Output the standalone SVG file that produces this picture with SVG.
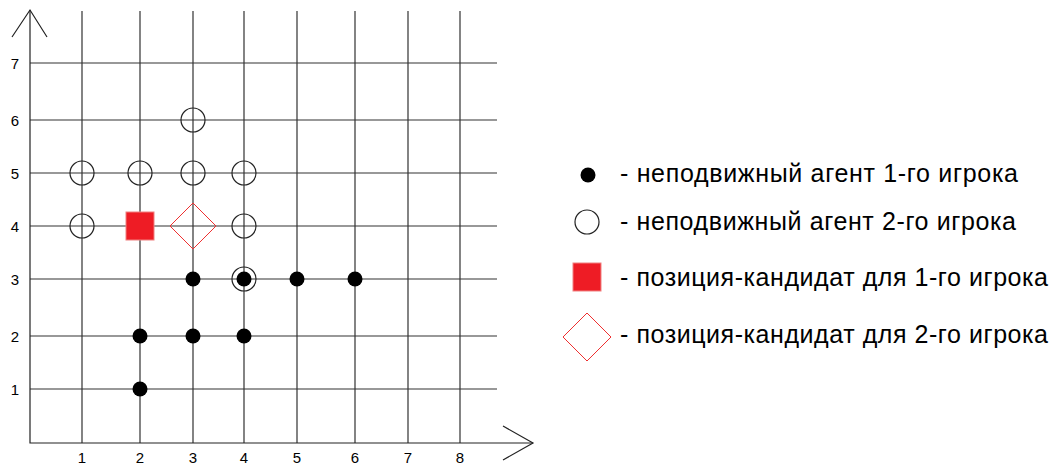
<svg xmlns="http://www.w3.org/2000/svg" width="1062" height="466" viewBox="0 0 1062 466">
<style>
.g{stroke:#333;stroke-width:1.2;fill:none}
.ax{stroke:#222;stroke-width:1.2;fill:none}
.n{font-family:"Liberation Sans",Arial,sans-serif;font-size:15px;fill:#000}
.lt{font-family:"Liberation Sans",Arial,sans-serif;font-size:25px;fill:#000}
.b{fill:#000}
.w{fill:none;stroke:#222;stroke-width:1.2}
.sq{fill:#ee1c25;stroke:#f08080;stroke-width:1}
.dm{fill:none;stroke:#ee3030;stroke-width:1}
</style>
<rect width="1062" height="466" fill="#fff"/>
<g id="grid">
<path class="g" d="M82 11V443M140 11V443M193 11V443M244 11V443M297 11V443M355 11V443M408 11V443M460 11V443"/>
<path class="g" d="M30 63H497M30 120H497M30 173H497M30 226H497M30 279H497M30 336H497M30 389H497"/>
</g>
<g id="axes">
<path class="ax" d="M30 10V443H533"/>
<path class="ax" d="M12 37L30 10L47 37"/>
<path class="ax" d="M503 426L533 443L503 460"/>
</g>
<g id="labels">
<text class="n" x="15" y="69" text-anchor="middle">7</text>
<text class="n" x="15" y="126" text-anchor="middle">6</text>
<text class="n" x="15" y="179" text-anchor="middle">5</text>
<text class="n" x="15" y="232" text-anchor="middle">4</text>
<text class="n" x="15" y="285" text-anchor="middle">3</text>
<text class="n" x="15" y="342" text-anchor="middle">2</text>
<text class="n" x="15" y="395" text-anchor="middle">1</text>
<text class="n" x="82" y="463" text-anchor="middle">1</text>
<text class="n" x="140" y="463" text-anchor="middle">2</text>
<text class="n" x="193" y="463" text-anchor="middle">3</text>
<text class="n" x="244" y="463" text-anchor="middle">4</text>
<text class="n" x="297" y="463" text-anchor="middle">5</text>
<text class="n" x="355" y="463" text-anchor="middle">6</text>
<text class="n" x="408" y="463" text-anchor="middle">7</text>
<text class="n" x="460" y="463" text-anchor="middle">8</text>
</g>
<g id="player2">
<circle class="w" cx="193" cy="120" r="12"/>
<circle class="w" cx="82" cy="173" r="12"/>
<circle class="w" cx="140" cy="173" r="12"/>
<circle class="w" cx="193" cy="173" r="12"/>
<circle class="w" cx="244" cy="173" r="12"/>
<circle class="w" cx="82" cy="226" r="12"/>
<circle class="w" cx="244" cy="226" r="12"/>
<circle class="w" cx="244" cy="279" r="12"/>
</g>
<g id="player1">
<circle class="b" cx="140" cy="389" r="7.5"/>
<circle class="b" cx="140" cy="336" r="7.5"/>
<circle class="b" cx="193" cy="336" r="7.5"/>
<circle class="b" cx="244" cy="336" r="7.5"/>
<circle class="b" cx="193" cy="279" r="7.5"/>
<circle class="b" cx="244" cy="279" r="7.5"/>
<circle class="b" cx="297" cy="279" r="7.5"/>
<circle class="b" cx="355" cy="279" r="7.5"/>
</g>
<g id="candidates">
<rect class="sq" x="126" y="212" width="28" height="28"/>
<path class="dm" d="M193 203L216 226L193 249L170 226Z"/>
</g>
<g id="legend">
<circle class="b" cx="588" cy="175" r="7.5"/>
<text class="lt" x="620" y="182" textLength="398" lengthAdjust="spacing">- неподвижный агент 1-го игрока</text>
<circle class="w" cx="587" cy="222" r="12"/>
<text class="lt" x="620" y="230" textLength="396" lengthAdjust="spacing">- неподвижный агент 2-го игрока</text>
<rect class="sq" x="573" y="263" width="28" height="28"/>
<text class="lt" x="620" y="286" textLength="428" lengthAdjust="spacing">- позиция-кандидат для 1-го игрока</text>
<path class="dm" d="M587 313L611 337L587 361L563 337Z"/>
<text class="lt" x="620" y="343" textLength="428" lengthAdjust="spacing">- позиция-кандидат для 2-го игрока</text>
</g>
</svg>
